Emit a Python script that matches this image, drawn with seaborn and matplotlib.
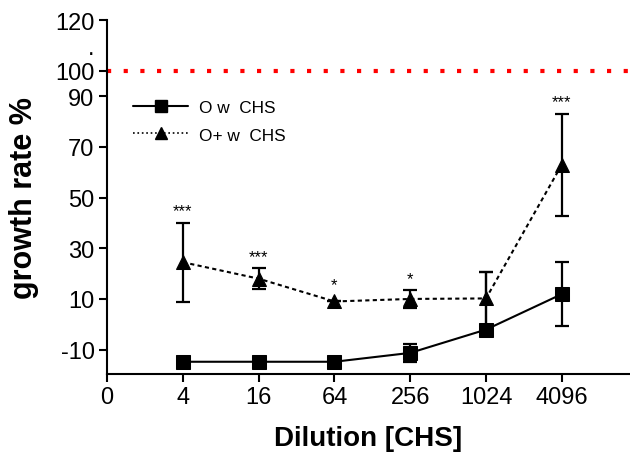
import numpy as np
import pandas as pd
import seaborn as sns
import matplotlib.pyplot as plt
from matplotlib.lines import Line2D

# values
dilutions = ["4", "16", "64", "256", "1024", "4096"]
o_mean = [-14.8, -14.8, -14.8, -11.3, -2.1, 11.9]
o_err_low = [0, 0, 0, 3.5, 0, 12.7]
o_err_high = [0, 0, 0, 3.5, 22.6, 12.7]
oplus_mean = [24.5, 18.0, 9.0, 10.0, 10.2, 63.0]
oplus_err = [15.6, 4.2, 0, 3.6, 10.3, 20.2]
stars = ["***", "***", "*", "*", "", "***"]
ytick_vals = [-10, 10, 30, 50, 70, 90, 100, 110, 120]
ytick_labels = ["-10", "10", "30", "50", "70", "90", "100", ".", "120"]

sns.set_style("ticks")
plt.rcParams['font.family'] = ['Liberation Sans', 'DejaVu Sans']
plt.rcParams.update({"text.color": "black", "axes.labelcolor": "black",
                     "xtick.color": "black", "ytick.color": "black"})

pos = np.arange(1, len(dilutions) + 1)
df = pd.DataFrame({"pos": np.concatenate([pos, pos]),
                   "rate": o_mean + oplus_mean,
                   "group": ["O w  CHS"] * 6 + ["O+ w  CHS"] * 6})

fig = plt.figure(figsize=(6.3, 4.64), dpi=100)
ax = fig.add_axes([0.170, 0.192, 0.83, 0.762])

ax.axhline(100, color="red", ls=(0, (1, 3)), lw=3, zorder=1)

sns.lineplot(data=df, x="pos", y="rate", style="group", markers=["s", "^"],
             dashes=[(None, None), (2, 1.6)], color="black", lw=1.5,
             markersize=10, markeredgecolor="black", legend=False, ax=ax, zorder=3)

ax.errorbar(pos, o_mean, yerr=[o_err_low, o_err_high], fmt="none", ecolor="black",
            elinewidth=1.6, capsize=5, capthick=1.6, zorder=2)
ax.errorbar(pos, oplus_mean, yerr=oplus_err, fmt="none", ecolor="black", elinewidth=1.6,
            capsize=5, capthick=1.6, zorder=2)

for x, m, e, s in zip(pos, oplus_mean, oplus_err, stars):
    if s:
        ax.annotate(s, (x, m + max(e, 2)), xytext=(0, 3), textcoords="offset points",
                    ha="center", va="bottom", fontsize=12)

ax.set_xlim(0, 6.9)
ax.set_ylim(-19.6, 120)
ax.set_xticks(np.arange(0, 7))
ax.set_xticklabels(["0"] + dilutions)
ax.set_yticks(ytick_vals)
ax.set_yticklabels(ytick_labels)
ax.yaxis.get_major_ticks()[7].tick1line.set_visible(False)
ax.tick_params(axis="both", labelsize=17, length=6, width=1.5, color="black", pad=3)

for side in ["top", "right"]:
    ax.spines[side].set_visible(False)
for side in ["left", "bottom"]:
    ax.spines[side].set_linewidth(1.5)
    ax.spines[side].set_color("black")

ax.set_xlabel("Dilution [CHS]", fontsize=20, fontweight="bold", labelpad=12)
ax.set_ylabel("growth rate %", fontsize=22, fontweight="bold", labelpad=12)

handles = [Line2D([], [], color="black", lw=1.5, marker="s", markersize=9),
           Line2D([], [], color="black", lw=1.2, ls=":", marker="^", markersize=9)]
ax.legend(handles, ["O w  CHS", "O+ w  CHS"], loc="upper left",
          bbox_to_anchor=(0.02, 0.82), frameon=False, fontsize=12.4,
          handlelength=3.2, labelspacing=0.75, handletextpad=0.6)

fig.savefig("out.png", dpi=100)
